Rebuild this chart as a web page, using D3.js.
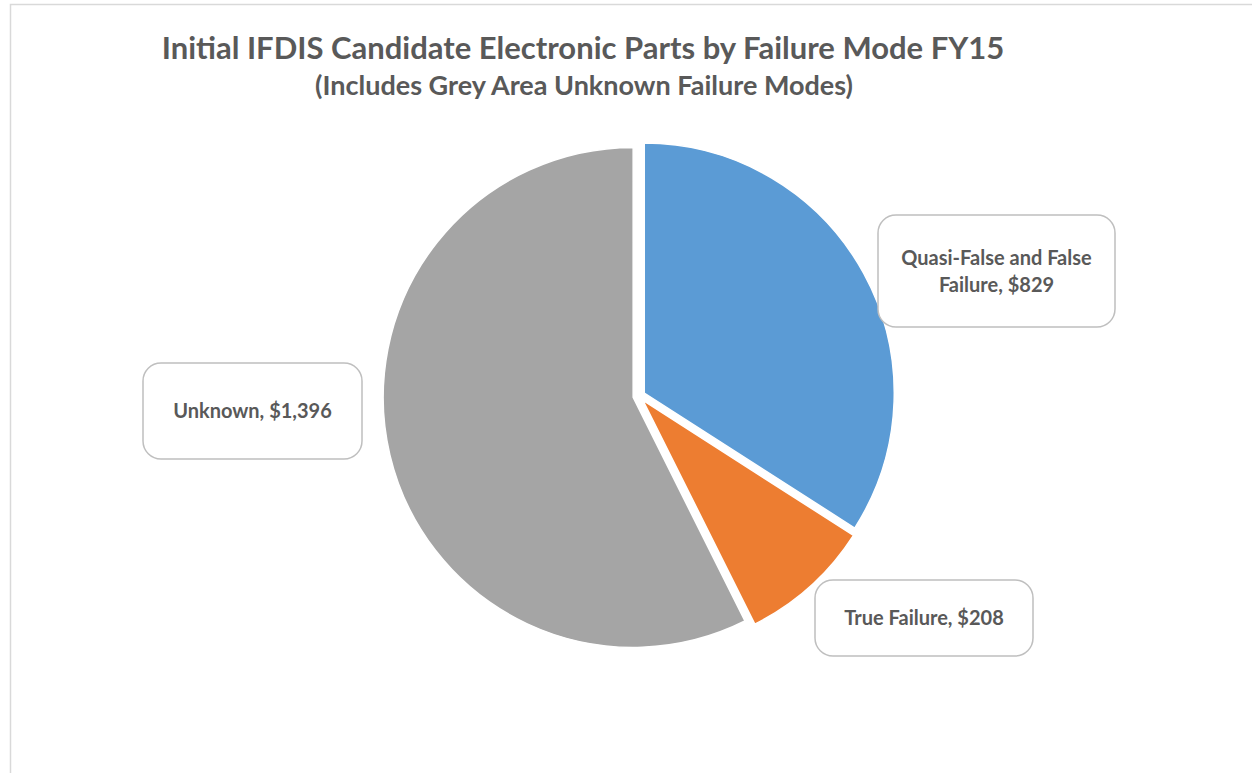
<!DOCTYPE html>
<html><head><meta charset="utf-8">
<script src="https://cdn.jsdelivr.net/npm/d3@7"></script>
<style>
html,body{margin:0;padding:0;background:#fff;}
text{font-family:"Lato","Open Sans",sans-serif;font-weight:bold;fill:#595959;}
</style></head>
<body>
<svg id="chart" width="1252" height="773"></svg>
<script>
const categories = ["Quasi-False and False Failure", "True Failure", "Unknown"];
const values = [829, 208, 1396];
const colors = ["#5B9BD5", "#ED7D31", "#A5A5A5"];
const titleText = "Initial IFDIS Candidate Electronic Parts by Failure Mode FY15";
const subtitleText = "(Includes Grey Area Unknown Failure Modes)";

const W = 1252, H = 773;
const svg = d3.select("#chart");

// chart border
svg.append("path")
  .attr("d", `M10.5,${H} V4.5 H${W}`)
  .attr("fill", "none").attr("stroke", "#d9d9d9").attr("stroke-width", 1.5);

// titles
svg.append("text").attr("x", 583).attr("y", 59).attr("text-anchor", "middle")
  .style("font-size", "31px").text(titleText);
svg.append("text").attr("x", 584).attr("y", 95).attr("text-anchor", "middle")
  .style("font-size", "27px").text(subtitleText);

// pie
const cx = 639, cy = 396, r = 250, explode = 6;
const pie = d3.pie().sort(null).value(d => d)(values);
const arc = d3.arc().innerRadius(0).outerRadius(r);
const g = svg.append("g").attr("transform", `translate(${cx},${cy})`);
g.selectAll("path").data(pie).join("path")
  .attr("d", arc)
  .attr("fill", (d, i) => colors[i])
  .attr("stroke", "#fff").attr("stroke-width", 1.5)
  .attr("transform", d => {
    const a = (d.startAngle + d.endAngle) / 2;
    return `translate(${explode * Math.sin(a)},${-explode * Math.cos(a)})`;
  });

// label boxes (layout)
const boxes = [
  {x: 878, y: 215, w: 237, h: 112, lines: ["Quasi-False and False", "Failure, $" + d3.format(",")(values[0])]},
  {x: 815, y: 580, w: 218, h: 76, lines: [categories[1] + ", $" + d3.format(",")(values[1])]},
  {x: 143, y: 363, w: 219, h: 96, lines: [categories[2] + ", $" + d3.format(",")(values[2])]}
];
const lb = svg.append("g");
boxes.forEach(b => {
  lb.append("rect").attr("x", b.x).attr("y", b.y).attr("width", b.w).attr("height", b.h)
    .attr("rx", 18).attr("ry", 18)
    .attr("fill", "#fff").attr("stroke", "#bfbfbf").attr("stroke-width", 1.5);
  const n = b.lines.length, lh = 27;
  b.lines.forEach((t, i) => {
    lb.append("text").attr("x", b.x + b.w / 2)
      .attr("y", b.y + b.h / 2 + (i - (n - 1) / 2) * lh)
      .attr("dy", "0.35em").attr("text-anchor", "middle")
      .style("font-size", "20px").text(t);
  });
});
</script>
</body></html>
